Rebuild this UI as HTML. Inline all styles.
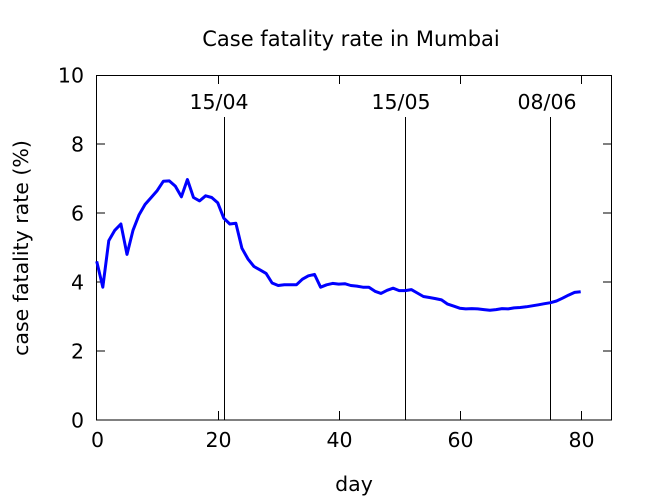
<!DOCTYPE html>
<html><head><meta charset="utf-8"><style>
html,body{margin:0;padding:0;background:#fff;}
svg{display:block;font-family:"DejaVu Sans","Liberation Sans",sans-serif;}
</style></head><body>
<svg id="s" width="650" height="500" viewBox="0 0 650 500" xmlns="http://www.w3.org/2000/svg">
<rect width="650" height="500" fill="#fff"/>
<text x="351" y="46" font-size="21" text-anchor="middle">Case fatality rate in Mumbai</text>
<g stroke="#000" stroke-width="1" fill="none">
<rect x="96.5" y="75.5" width="515" height="344.5"/>
<g id="ticks"></g>
<line x1="224.5" y1="117" x2="224.5" y2="420"/>
<line x1="405.5" y1="117" x2="405.5" y2="420"/>
<line x1="550.5" y1="117" x2="550.5" y2="420"/>
</g>
<g font-size="20.5" text-anchor="middle">
<text x="219" y="109">15/04</text>
<text x="401" y="109">15/05</text>
<text x="547" y="109">08/06</text>
</g>
<g font-size="20.5" text-anchor="end" id="yl"></g>
<g font-size="20.5" text-anchor="middle" id="xl"></g>
<text x="354" y="491" font-size="20.5" text-anchor="middle">day</text>
<text transform="translate(28,248) rotate(-90)" font-size="20.5" text-anchor="middle">case fatality rate (%)</text>
<polyline id="line" fill="none" stroke="#0000ff" stroke-width="3" stroke-linejoin="round"/>
</svg>
<script>
var v=[4.6,3.85,5.2,5.5,5.68,4.8,5.5,5.95,6.25,6.45,6.65,6.92,6.93,6.78,6.47,6.97,6.45,6.35,6.5,6.45,6.3,5.85,5.68,5.7,4.98,4.67,4.45,4.35,4.25,3.97,3.9,3.92,3.92,3.92,4.08,4.18,4.22,3.85,3.92,3.96,3.94,3.95,3.9,3.88,3.85,3.85,3.73,3.67,3.76,3.82,3.75,3.75,3.78,3.68,3.58,3.55,3.52,3.48,3.36,3.3,3.24,3.22,3.23,3.22,3.2,3.18,3.2,3.23,3.22,3.25,3.26,3.28,3.31,3.34,3.37,3.4,3.45,3.53,3.62,3.7,3.72];
function X(d){return 96.7+d*6.05;}function Y(y){return 420-y*34.5;}
document.getElementById('line').setAttribute('points',v.map(function(y,i){return X(i).toFixed(1)+','+Y(y).toFixed(1)}).join(' '));
var t='',yl='',xl='';
for(var i=0;i<=10;i+=2){var y=Y(i);if(i>0&&i<10)t+='<line x1="96.5" y1="'+y+'" x2="105" y2="'+y+'"/><line x1="603" y1="'+y+'" x2="611.5" y2="'+y+'"/>';yl+='<text x="84" y="'+(y+7.5)+'">'+i+'</text>';}
for(var d=0;d<=80;d+=20){var x=Math.round(X(d))+0.5;if(d>0)t+='<line x1="'+x+'" y1="420" x2="'+x+'" y2="411"/><line x1="'+x+'" y1="75.5" x2="'+x+'" y2="84"/>';xl+='<text x="'+x+'" y="447">'+d+'</text>';}
document.getElementById('ticks').innerHTML=t;
document.getElementById('yl').innerHTML=yl;
document.getElementById('xl').innerHTML=xl;
</script>
</body></html>
